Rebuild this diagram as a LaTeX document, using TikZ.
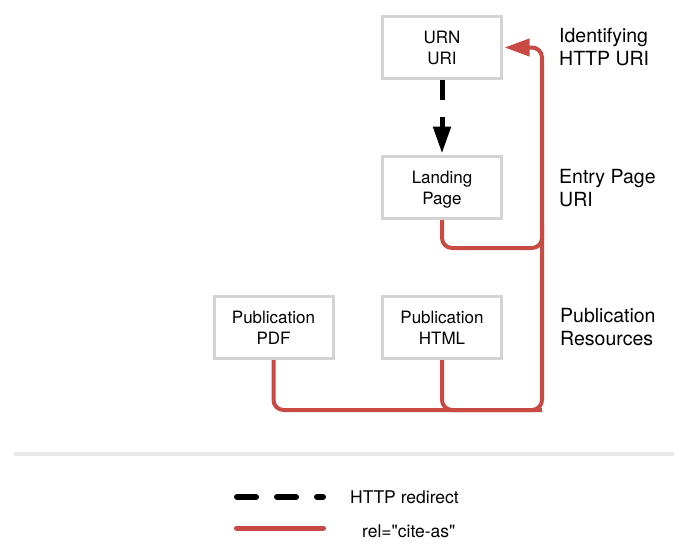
\documentclass[tikz,border=0pt]{standalone}
\usepackage{fontspec}
\newfontfamily\hv{TeX Gyre Heros}
\usetikzlibrary{arrows.meta}
\definecolor{citered}{HTML}{C94A43}
\definecolor{boxgray}{HTML}{D3D3D3}
\definecolor{sepgray}{HTML}{E8E8E8}
\begin{document}
\begin{tikzpicture}[x=1pt,y=-1pt,
  box/.style={draw=boxgray, line width=3pt, fill=white, minimum width=119pt, minimum height=62pt,
    inner sep=0pt, align=center, font=\hv\fontsize{17}{21}\selectfont, text depth=0pt},
  lbl/.style={anchor=west, inner sep=0pt, align=left, font=\hv\fontsize{19.5}{23}\selectfont},
  cite/.style={draw=citered, line width=4pt, rounded corners=10pt},
  redir/.style={draw=black, line width=5pt, dash pattern=on 20pt off 17pt},
  legtext/.style={anchor=base west, inner sep=0pt, font=\hv\fontsize{17.5}{21}\selectfont}]
\useasboundingbox (0,0) rectangle (688,550);

% boxes
\node[box] (urn)  at (442,47.5)    {URN\\URI};
\node[box] (land) at (442,187.5)   {Landing\\Page};
\node[box] (pdf)  at (273.5,327.5) {Publication\\PDF};
\node[box] (html) at (442,327.5)   {Publication\\HTML};

% junctions
\coordinate (j)   at (542,410);
\coordinate (jl)  at (542,248);
\coordinate (jlu) at (542,225);

% cite-as connectors
\draw[cite, -{Triangle[length=25pt,width=17pt]}, shorten >=1.5pt] (pdf.south) |- (j) |- (urn.east);
\draw[cite] (html.south) |- (j);
\draw[cite] (land.south) |- (jl) -- (jlu);

% redirect
\draw[redir, -{Triangle[length=27pt,width=17pt]}, shorten >=1.5pt] (urn.south) -- (land.north);

% side labels
\node[lbl] (l1) at (559,47.5)  {Identifying\\HTTP URI};
\node[lbl] (l2) at (559,188.5) {Entry Page\\URI};
\node[lbl] (l3) at (560,327.5) {Publication\\Resources};

% separator
\draw[line width=3.5pt, sepgray, line cap=round] (15,454) -- (673,454);

% legend
\coordinate (da) at (237,497);
\coordinate (db) at (323,497);
\draw[line width=6pt, line cap=round, dash pattern=on 19pt off 21pt] (da) -- (db);
\coordinate (ra) at (236.5,528);
\coordinate (rb) at (323.5,528);
\draw[citered, line width=5pt, line cap=round] (ra) -- (rb);
\node[legtext] (t1) at (350,503) {HTTP redirect};
\node[legtext] (t2) at (362,537) {rel="cite-as"};
\end{tikzpicture}
\end{document}
